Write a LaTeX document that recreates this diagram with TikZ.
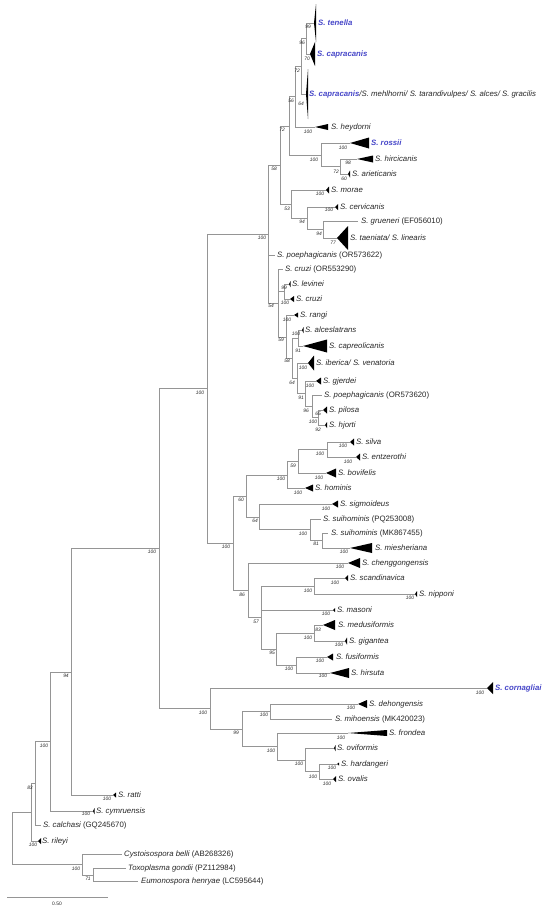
\documentclass[tikz,border=0pt]{standalone}
\usepackage{fontspec}
\setmainfont{Liberation Sans}
\definecolor{ln}{HTML}{959595}
\definecolor{blu}{HTML}{4646C8}
\definecolor{tx}{HTML}{262626}
\newcommand\lf[7]{%
  \coordinate (#1) at (#2,#3);
  \fill[black] (#1) -- ++(#4,-#5) -- ++(0,2*#5) -- cycle;
  \node[sp] (#1L) at (#6,#3) {#7};}
\newcommand\lfline[5]{%
  \coordinate (#1) at (#2,#3);
  \node[sp] (#1L) at (#4,#3) {#5};}
\newcommand\blu[1]{{\color{blu}\bfseries #1}}
\begin{document}
\begin{tikzpicture}[x=1pt,y=-1pt,
  br/.style={draw=ln, line width=0.6pt},
  sp/.style={anchor=west, inner sep=0pt, text=tx, text height=5.6pt, text depth=1.5pt,
    font=\fontsize{7.8}{9}\selectfont\itshape},
  bs/.style={inner sep=0pt, text=tx, text height=3.5pt, text depth=0pt,
    font=\fontsize{4.9}{5.5}\selectfont\itshape}]
\useasboundingbox (0,0) rectangle (550,914);
% internal nodes
\coordinate (root) at (12,838);
\coordinate (J) at (31,812);
\coordinate (I) at (35,783.5);
\coordinate (H) at (50,741.5);
\coordinate (G) at (71,672);
\coordinate (P) at (159,548);
\coordinate (Q) at (207,388.5);
\coordinate (F) at (268,234);
\coordinate (E) at (280,165);
\coordinate (D) at (289,126);
\coordinate (C) at (295,96.5);
\coordinate (B) at (301,66);
\coordinate (A) at (306,38.5);
\coordinate (R) at (321,155);
\coordinate (HA) at (340,166.5);
\coordinate (M) at (291,204);
\coordinate (N) at (307,218);
\coordinate (O) at (323,229.5);
\coordinate (T) at (278,303);
\coordinate (V) at (284,291.5);
\coordinate (U) at (286,337);
\coordinate (W) at (292,358);
\coordinate (X) at (298,338);
\coordinate (Y) at (297,378);
\coordinate (Z) at (305,393.5);
\coordinate (AA) at (312,406);
\coordinate (AB) at (318,417.5);
\coordinate (S) at (233,543);
\coordinate (S1) at (246,496);
\coordinate (S3) at (287,475);
\coordinate (S4) at (298,461);
\coordinate (S5) at (327,449.5);
\coordinate (S6) at (259,517);
\coordinate (S7) at (310,529.5);
\coordinate (S8) at (322,540);
\coordinate (S2) at (248,590);
\coordinate (S9) at (261,617.5);
\coordinate (S10) at (314,586);
\coordinate (S12) at (276,649);
\coordinate (S13) at (314,633);
\coordinate (S14) at (296,665);
\coordinate (CG) at (210,708.5);
\coordinate (CH) at (242,729);
\coordinate (CI) at (270,711.5);
\coordinate (CJ) at (277,746.5);
\coordinate (CK) at (305,760);
\coordinate (CL) at (319,771.5);
\coordinate (K) at (82,864.5);
\coordinate (L) at (93,875);
% leaves
\lf{ten}{314}{23}{2}{19}{318}{\blu{S. tenella}}
\lf{cap}{310}{54}{5}{12}{317}{\blu{S. capracanis}}
\lf{capm}{306}{94}{2}{25}{309}{\blu{S. capracanis}/S. mehlhorni/ S. tarandivulpes/ S. alces/ S. gracilis}
\lf{hey}{315}{127}{13}{3}{331}{S. heydorni}
\lf{ros}{350}{143}{19}{5.5}{371}{\blu{S. rossii}}
\lf{hir}{357}{159}{16}{3.5}{375}{S. hircicanis}
\lf{ari}{348}{174}{2}{3.5}{352}{S. arieticanis}
\lf{mor}{326}{190}{3}{3.5}{331}{S. morae}
\lf{cer}{335}{207}{3}{3}{340}{S. cervicanis}
\lfline{gru}{358}{221}{361}{S. grueneri \upshape(EF056010)}
\lf{tae}{337}{238}{11}{12}{350}{S. taeniata/ S. linearis}
\lfline{poa}{275}{255}{277}{S. poephagicanis \upshape(OR573622)}
\lfline{cro}{283}{269}{285}{S. cruzi \upshape(OR553290)}
\lf{lev}{289}{284}{1.5}{3}{292}{S. levinei}
\lf{cru}{290}{299}{4}{3}{296}{S. cruzi}
\lf{ran}{294}{315}{4}{2.5}{300}{S. rangi}
\lf{alc}{302}{330}{1.5}{3}{305}{S. alceslatrans}
\lf{cpo}{303}{346}{24}{6.5}{329}{S. capreolicanis}
\lf{ibe}{308}{363}{6}{7.5}{316}{S. iberica/ S. venatoria}
\lf{gje}{316}{381}{5}{3.5}{323}{S. gjerdei}
\lfline{pob}{322}{395}{324}{S. poephagicanis \upshape(OR573620)}
\lf{pil}{323}{410}{4}{3.5}{329}{S. pilosa}
\lf{hjo}{325}{425}{2}{3}{329}{S. hjorti}
\lf{sil}{350}{442}{4}{3.5}{356}{S. silva}
\lf{ent}{356}{457}{4}{3.5}{362}{S. entzerothi}
\lf{bov}{326}{473}{10}{4.5}{338}{S. bovifelis}
\lf{hom}{305}{488}{8}{3.5}{315}{S. hominis}
\lf{sig}{332}{504}{6}{3.5}{340}{S. sigmoideus}
\lfline{sua}{321}{519}{323}{S. suihominis \upshape(PQ253008)}
\lfline{sub}{328}{533}{331}{S. suihominis \upshape(MK867455)}
\lf{mie}{350}{548}{22}{5}{375}{S. miesheriana}
\lf{che}{348}{563}{12}{5}{362}{S. chenggongensis}
\lf{sca}{345}{578}{3}{3}{350}{S. scandinavica}
\lf{nip}{415}{594}{2}{3}{419}{S. nipponi}
\lf{mas}{333}{610}{2}{2}{337}{S. masoni}
\lf{med}{323}{625}{12}{5}{338}{S. medusiformis}
\lf{gig}{345}{641}{2}{3.5}{349}{S. gigantea}
\lf{fus}{327}{657}{6}{3.5}{336}{S. fusiformis}
\lf{hrs}{330}{673}{19}{5}{351}{S. hirsuta}
\lf{cor}{487}{688}{6}{6}{495}{\blu{S. cornagliai}}
\lf{deh}{358}{704}{9}{4}{369}{S. dehongensis}
\lfline{mih}{332}{719}{335}{S. mihoensis \upshape(MK420023)}
\lf{fro}{348}{733}{39}{3}{389}{S. frondea}
\lf{ovi}{334}{748}{1.5}{3}{337}{S. oviformis}
\lf{har}{337}{764}{2}{1.5}{341}{S. hardangeri}
\lf{ova}{333}{779}{3}{3}{338}{S. ovalis}
\lf{rat}{113}{795}{3}{2.5}{118}{S. ratti}
\lf{cym}{93}{811}{1.5}{3}{96}{S. cymruensis}
\lfline{cal}{41}{825}{43}{S. calchasi \upshape(GQ245670)}
\lf{ril}{38}{841}{3}{3}{42}{S. rileyi}
\lfline{cys}{122}{854}{124}{Cystoisospora belli \upshape(AB268326)}
\lfline{tox}{126}{868}{128}{Toxoplasma gondii \upshape(PZ112984)}
\lfline{eum}{138}{881}{141}{Eumonospora henryae \upshape(LC595644)}
% branches
\foreach \p/\c in {root/J,root/K,J/I,J/ril,I/H,I/cal,H/G,H/cym,G/P,G/rat,
  P/Q,P/CG,Q/F,Q/S,F/E,F/poa,F/T,E/D,E/M,D/C,D/R,C/B,C/hey,B/A,B/capm,
  A/ten,A/cap,R/ros,R/HA,HA/hir,HA/ari,M/mor,M/N,N/cer,N/O,O/gru,O/tae,
  T/cro,T/V,T/U,V/lev,V/cru,U/ran,U/W,W/X,W/Y,X/alc,X/cpo,Y/ibe,Y/Z,
  Z/gje,Z/AA,AA/pob,AA/AB,AB/pil,AB/hjo,S/S1,S/S2,S1/S3,S1/S6,S3/S4,S3/hom,
  S4/S5,S4/bov,S5/sil,S5/ent,S6/sig,S6/S7,S7/sua,S7/S8,S8/sub,S8/mie,
  S2/che,S2/S9,S9/S10,S9/mas,S9/S12,S10/sca,S10/nip,S12/S13,S12/S14,
  S13/med,S13/gig,S14/fus,S14/hrs,CG/cor,CG/CH,CH/CI,CH/CJ,CI/deh,CI/mih,
  CJ/fro,CJ/CK,CK/ovi,CK/CL,CL/har,CL/ova,K/cys,K/L,L/tox,L/eum}
  {\draw[br] (\p) |- (\c);}
% bootstrap values
\foreach \x/\y/\t in {308/27/99,307/59/70,301/104/64,302/43/96,297/71/72,291/101/56,
  282/130/72,308/132/100,343/148/100,314/160/100,348/163/98,336/172/72,344/179/60,
  274/169/58,320/194/100,287/209/53,329/210/100,302/222/94,319/234/94,333/243/77,
  262/238/100,200/393/100,152/552/100,271/306/54,284/288/99,285/303/100,287/320/100,
  281/340/59,296/334/100,298/351/91,287/361/58,303/368/100,292/383/64,310/386/100,
  301/398/91,306/411/96,318/414/65,313/422/100,318/430/92,343/446/100,348/462/100,
  320/454/100,293/466/59,319/478/100,281/479/100,298/493/100,241/500/60,326/509/100,
  255/521/64,303/534/100,316/544/81,344/552/100,226/547/100,340/567/100,242/595/86,
  335/583/100,308/591/100,410/598/100,256/622/57,326/614/100,318/630/83,308/638/100,
  339/645/100,272/653/95,320/661/100,289/669/100,323/676/100,480/693/100,203/713/100,
  351/708/100,264/715/100,236/733/99,341/738/100,271/751/100,299/764/100,332/768/100,
  313/777/100,327/784/100,66/676/94,107/799/100,44/746/100,86/814/100,30/788/83,
  33/845/100,76/869/100,88/879/71}
  {\node[bs] (b\x-\y) at (\x,\y) {\t};}
% scale bar
\coordinate (sb1) at (7,897);
\coordinate (sb2) at (108,897);
\draw[br] (sb1) -- (sb2);
\node[bs, font=\fontsize{4.9}{5.5}\selectfont] (sbl) at (57,904) {0.50};
\end{tikzpicture}
\end{document}
